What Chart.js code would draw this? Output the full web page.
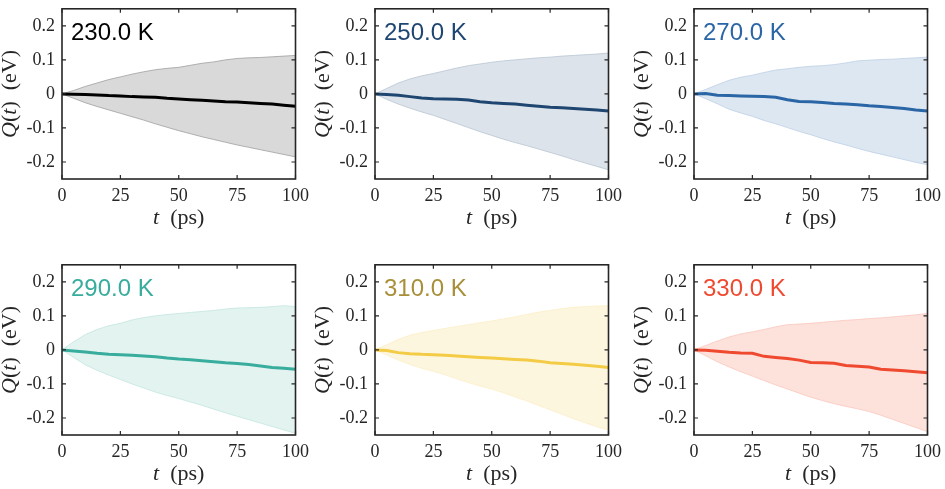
<!DOCTYPE html>
<html lang="en">
<head>
<meta charset="UTF-8">
<title>Q(t) for six temperatures</title>
<script src="https://cdn.jsdelivr.net/npm/chart.js"></script>
<style>
  body { margin: 0; background: #fff; width: 945px; height: 489px; overflow: hidden; position: relative; }
  canvas { position: absolute; }
</style>
</head>
<body>
<canvas id="c0"></canvas>
<canvas id="c1"></canvas>
<canvas id="c2"></canvas>
<canvas id="c3"></canvas>
<canvas id="c4"></canvas>
<canvas id="c5"></canvas>
<script>
// time axis (ps) and ticks
const times = [0, 5, 10, 15, 20, 25, 30, 35, 40, 45, 50, 55, 60, 65, 70, 75, 80, 85, 90, 95, 100];
const xTicks = [0, 25, 50, 75, 100];
const yTicks = [-0.2, -0.1, 0, 0.1, 0.2];
const yTickLabels = ['-0.2', '-0.1', '0', '0.1', '0.2'];
const temps = ['230.0 K', '250.0 K', '270.0 K', '290.0 K', '310.0 K', '330.0 K'];

// Q(t) in eV: band edges and mean
const upper230 = [0, .010, .022, .032, .042, .050, .058, .065, .071, .075, .078, .084, .090, .094, .100, .104, .106, .107, .109, .111, .113];
const lower230 = [0, -.013, -.026, -.037, -.047, -.057, -.067, -.077, -.088, -.098, -.108, -.117, -.126, -.134, -.142, -.150, -.157, -.164, -.171, -.178, -.185];
const mean230  = [0, -.001, -.002, -.003, -.005, -.006, -.008, -.009, -.010, -.013, -.015, -.017, -.019, -.021, -.023, -.024, -.026, -.028, -.030, -.033, -.036];

const upper250 = [0, .016, .032, .044, .053, .060, .068, .076, .083, .088, .093, .097, .100, .103, .106, .108, .111, .113, .115, .117, .120];
const lower250 = [0, -.016, -.030, -.042, -.053, -.063, -.075, -.087, -.099, -.111, -.122, -.133, -.143, -.152, -.162, -.172, -.182, -.193, -.203, -.213, -.223];
const mean250  = [0, -.002, -.004, -.008, -.012, -.014, -.015, -.016, -.018, -.023, -.026, -.028, -.030, -.033, -.036, -.039, -.041, -.043, -.045, -.047, -.050];

const upper270 = [0, .013, .027, .040, .049, .055, .063, .070, .074, .078, .081, .083, .086, .091, .097, .099, .101, .102, .104, .106, .108];
const lower270 = [0, -.014, -.029, -.045, -.056, -.066, -.078, -.088, -.099, -.110, -.120, -.131, -.141, -.150, -.160, -.169, -.177, -.185, -.193, -.201, -.208];
const mean270  = [0, .001, -.004, -.005, -.006, -.007, -.008, -.010, -.017, -.022, -.023, -.025, -.028, -.030, -.032, -.035, -.037, -.040, -.043, -.047, -.050];

const upper290 = [0, .024, .045, .060, .071, .078, .088, .095, .100, .104, .107, .110, .113, .116, .120, .123, .124, .125, .127, .130, .127];
const lower290 = [0, -.022, -.044, -.060, -.074, -.087, -.100, -.112, -.124, -.134, -.143, -.153, -.163, -.174, -.185, -.195, -.205, -.215, -.225, -.235, -.245];
const mean290  = [0, -.003, -.006, -.010, -.013, -.014, -.016, -.018, -.020, -.024, -.027, -.029, -.032, -.035, -.038, -.040, -.043, -.047, -.052, -.054, -.057];

const upper310 = [0, .015, .031, .043, .051, .057, .063, .069, .074, .080, .085, .091, .097, .104, .111, .116, .121, .125, .127, .129, .130];
const lower310 = [0, -.015, -.030, -.043, -.054, -.063, -.073, -.085, -.096, -.106, -.115, -.126, -.138, -.150, -.163, -.176, -.189, -.202, -.214, -.226, -.235];
const mean310  = [0, -.002, -.008, -.011, -.013, -.014, -.016, -.018, -.020, -.022, -.024, -.026, -.028, -.030, -.033, -.038, -.040, -.042, -.045, -.048, -.052];

const upper330 = [0, .013, .026, .038, .047, .053, .060, .068, .074, .076, .078, .081, .084, .087, .089, .092, .094, .097, .100, .103, .107];
const lower330 = [0, -.017, -.035, -.050, -.064, -.077, -.090, -.103, -.115, -.127, -.139, -.149, -.158, -.166, -.173, -.181, -.192, -.204, -.216, -.228, -.240];
const mean330  = [0, -.001, -.004, -.007, -.009, -.010, -.019, -.022, -.025, -.030, -.037, -.038, -.039, -.046, -.048, -.050, -.057, -.059, -.061, -.064, -.067];

// layout of each small panel (px)
const Y_W = 62, X_H = 54, TOP_H = 10, RIGHT_W = 16, PLOT_W = 237, PLOT_H = 178;
const colLefts = [0, 313, 632];
const rowTops = [-9, 247];

const panels = [
  { label: temps[0], upper: upper230, lower: lower230, mean: mean230, line: '#000000', text: '#000000', fill: '#d9d9d9', edge: '#a0a0a0' },
  { label: temps[1], upper: upper250, lower: lower250, mean: mean250, line: '#1e4670', text: '#1e4670', fill: '#dde3ea', edge: '#b9c5d2' },
  { label: temps[2], upper: upper270, lower: lower270, mean: mean270, line: '#2a65a6', text: '#2a65a6', fill: '#dde7f2', edge: '#bccfe4' },
  { label: temps[3], upper: upper290, lower: lower290, mean: mean290, line: '#38ad9d', text: '#38ad9d', fill: '#e2f3f0', edge: '#c4e6e0' },
  { label: temps[4], upper: upper310, lower: lower310, mean: mean310, line: '#f3cb45', text: '#a88f3a', fill: '#fdf6de', edge: '#fbeec6' },
  { label: temps[5], upper: upper330, lower: lower330, mean: mean330, line: '#ef4a30', text: '#ef4a30', fill: '#fde1db', edge: '#fac8be' }
];

const serif = '"Liberation Serif", "Times New Roman", serif';
const itFont = 'italic 22px ' + serif;
const rmFont = '22px ' + serif;

function drawRuns(ctx, runs, x, y) {
  let total = 0;
  runs.forEach(r => { ctx.font = r[1]; total += ctx.measureText(r[0]).width; });
  let cx = x - total / 2;
  runs.forEach(r => {
    ctx.font = r[1];
    ctx.fillText(r[0], cx, y);
    cx += ctx.measureText(r[0]).width;
  });
}

// box, inward ticks, temperature tag and axis titles
const decorPlugin = {
  id: 'decor',
  afterDraw(chart, args, opts) {
    const ctx = chart.ctx;
    const a = chart.chartArea;
    const sx = chart.scales.x, sy = chart.scales.y;
    ctx.save();
    ctx.strokeStyle = '#262626';
    ctx.lineWidth = 1.2;
    xTicks.forEach(v => {
      const px = sx.getPixelForValue(v);
      ctx.beginPath();
      ctx.moveTo(px, a.bottom); ctx.lineTo(px, a.bottom - 4);
      ctx.moveTo(px, a.top); ctx.lineTo(px, a.top + 4);
      ctx.stroke();
    });
    yTicks.forEach(v => {
      const py = sy.getPixelForValue(v);
      ctx.beginPath();
      ctx.moveTo(a.left, py); ctx.lineTo(a.left + 4, py);
      ctx.moveTo(a.right, py); ctx.lineTo(a.right - 4, py);
      ctx.stroke();
    });
    ctx.lineWidth = 1.6;
    ctx.strokeRect(a.left, a.top, a.right - a.left, a.bottom - a.top);

    ctx.fillStyle = opts.textColor;
    ctx.font = '24px "Liberation Sans", Arial, sans-serif';
    ctx.textBaseline = 'alphabetic';
    ctx.textAlign = 'left';
    ctx.fillText(opts.label, a.left + 9, a.top + 31);

    ctx.fillStyle = '#262626';
    ctx.textBaseline = 'middle';
    drawRuns(ctx, [['t', itFont], ['  (ps)', rmFont]], (a.left + a.right) / 2, a.bottom + 39);
    ctx.translate(a.left - 52, (a.top + a.bottom) / 2);
    ctx.rotate(-Math.PI / 2);
    drawRuns(ctx, [['Q', itFont], ['(', rmFont], ['t', itFont], [')', rmFont], ['  (eV)', rmFont]], 0, 0);
    ctx.restore();
  }
};

function pts(arr) {
  return times.map((t, i) => ({ x: t, y: arr[i] }));
}

panels.forEach((p, i) => {
  const canvas = document.getElementById('c' + i);
  canvas.width = Y_W + PLOT_W + RIGHT_W;
  canvas.height = TOP_H + PLOT_H + X_H;
  canvas.style.left = colLefts[i % 3] + 'px';
  canvas.style.top = rowTops[Math.floor(i / 3)] + 'px';

  new Chart(canvas.getContext('2d'), {
    type: 'line',
    data: {
      datasets: [
        { data: pts(p.mean), borderColor: p.line, borderWidth: 3, pointRadius: 0, fill: false, tension: 0 },
        { data: pts(p.lower), borderColor: p.edge, borderWidth: 0.8, pointRadius: 0, fill: false, tension: 0 },
        { data: pts(p.upper), borderColor: p.edge, borderWidth: 0.8, pointRadius: 0, backgroundColor: p.fill, fill: '-1', tension: 0 }
      ]
    },
    options: {
      responsive: false,
      animation: false,
      events: [],
      layout: { padding: 0 },
      plugins: {
        legend: { display: false },
        tooltip: { enabled: false },
        decor: { label: p.label, textColor: p.text }
      },
      scales: {
        x: {
          type: 'linear', position: 'bottom', min: 0, max: 100,
          afterBuildTicks: s => { s.ticks = xTicks.map(v => ({ value: v })); },
          afterFit: s => { s.height = X_H; },
          grid: { display: false, drawTicks: false },
          border: { display: false },
          ticks: { padding: 6, color: '#262626', maxRotation: 0, autoSkip: false, font: { family: serif, size: 18 } }
        },
        y: {
          type: 'linear', position: 'left', min: -0.25, max: 0.25,
          afterBuildTicks: s => { s.ticks = yTicks.map(v => ({ value: v })); },
          afterFit: s => { s.width = Y_W; },
          grid: { display: false, drawTicks: false },
          border: { display: false },
          ticks: { padding: 7, color: '#262626', autoSkip: false, font: { family: serif, size: 18 },
                   callback: (v, idx) => yTickLabels[idx] }
        },
        xt: {
          type: 'linear', position: 'top',
          afterFit: s => { s.height = TOP_H; },
          grid: { display: false, drawTicks: false }, border: { display: false }, ticks: { display: false }
        },
        yr: {
          type: 'linear', position: 'right',
          afterFit: s => { s.width = RIGHT_W; },
          grid: { display: false, drawTicks: false }, border: { display: false }, ticks: { display: false }
        }
      }
    },
    plugins: [decorPlugin]
  });
});
</script>
</body>
</html>
